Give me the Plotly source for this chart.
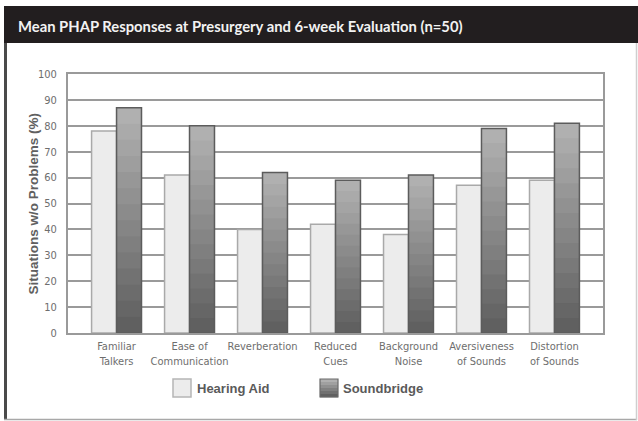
import plotly.graph_objects as go

# Mean PHAP responses, % of situations without problems
categories = ["Familiar<br>Talkers", "Ease of<br>Communication", "Reverberation",
              "Reduced<br>Cues", "Background<br>Noise", "Aversiveness<br>of Sounds",
              "Distortion<br>of Sounds"]
hearing_aid = [78, 61, 40, 42, 38, 57, 59]
soundbridge = [87, 80, 62, 59, 61, 79, 81]
y_ticks = [0, 10, 20, 30, 40, 50, 60, 70, 80, 90, 100]

W, H = 638, 421
L, R, T, B = 68, 603, 74, 333          # plot area in pixels

NARROW = "DejaVu Sans Condensed, Liberation Sans Narrow, Arial Narrow, sans-serif"


def px(x):
    return (x - L) / (R - L)


def py(y):
    return (B - y) / (B - T)


x_idx = list(range(len(categories)))
bw = 0.342
n_steps = 14


def grey(level):
    return f"rgb({level},{level},{level})"


fig = go.Figure()

# Hearing aid bars (left of each pair)
fig.add_trace(go.Bar(
    x=x_idx, y=hearing_aid, offset=-bw, width=bw,
    marker=dict(color="#ececec", line=dict(color="#a9a9a9", width=1.5)),
    name="Hearing Aid", showlegend=False, hoverinfo="skip"))

# Soundbridge bars: vertical shading from light top to dark bottom,
# layered as successively shorter, darker bars over the full bar
top_c, bot_c = 176, 96
for k in range(n_steps):
    frac = (n_steps - k) / n_steps
    lvl = round(top_c + (bot_c - top_c) * k / (n_steps - 1))
    fig.add_trace(go.Bar(
        x=x_idx, y=[v * frac for v in soundbridge], offset=0, width=bw,
        marker=dict(color=grey(lvl), line=dict(width=0)),
        showlegend=False, hoverinfo="skip"))

# outline of the Soundbridge bars
fig.add_trace(go.Bar(
    x=x_idx, y=soundbridge, offset=0, width=bw,
    marker=dict(color="rgba(0,0,0,0)", line=dict(color="#5c5c5c", width=1.5)),
    name="Soundbridge", showlegend=False, hoverinfo="skip"))

shapes = []
# dark title band
shapes.append(dict(type="rect", xref="paper", yref="paper",
                   x0=px(4), x1=px(639), y0=py(43), y1=py(6),
                   fillcolor="#221e1f", line=dict(width=0), layer="below"))
# frame around the chart body
shapes.append(dict(type="line", xref="paper", yref="paper",
                   x0=px(5.5), x1=px(5.5), y0=py(43), y1=py(420),
                   line=dict(color="#4a4a4a", width=3)))
shapes.append(dict(type="line", xref="paper", yref="paper",
                   x0=px(4), x1=px(637), y0=py(419.5), y1=py(419.5),
                   line=dict(color="#a8a8a8", width=1.5)))
shapes.append(dict(type="line", xref="paper", yref="paper",
                   x0=px(636.5), x1=px(636.5), y0=py(43), y1=py(420),
                   line=dict(color="#cfcfcf", width=1.5)))

# legend swatches
shapes.append(dict(type="rect", xref="paper", yref="paper",
                   x0=px(173), x1=px(191), y0=py(397), y1=py(379),
                   fillcolor="#ececec", line=dict(color="#b5b5b5", width=1.5)))
n_sw = 6
for k in range(n_sw):
    lvl = round(top_c + (bot_c - top_c) * k / (n_sw - 1))
    y0 = 379 + 18 * k / n_sw
    y1 = 379 + 18 * (k + 1) / n_sw
    shapes.append(dict(type="rect", xref="paper", yref="paper",
                       x0=px(320), x1=px(338), y0=py(y1 + 0.3), y1=py(y0),
                       fillcolor=grey(lvl), line=dict(width=0)))
shapes.append(dict(type="rect", xref="paper", yref="paper",
                   x0=px(320), x1=px(338), y0=py(397), y1=py(379),
                   fillcolor="rgba(0,0,0,0)", line=dict(color="#6a6a6a", width=1.2)))

annotations = [
    dict(text="Mean PHAP Responses at Presurgery and 6-week Evaluation (n=50)",
         xref="paper", yref="paper", x=px(16), y=py(26), xanchor="left", yanchor="middle",
         showarrow=False, font=dict(family="Lato", size=14.8, color="#f2f2f2", weight="bold")),
    dict(text="Situations w/o Problems (%)", xref="paper", yref="paper",
         x=px(33), y=py(203.5), xanchor="center", yanchor="middle", textangle=-90,
         showarrow=False,
         font=dict(family="Liberation Sans", size=13.5, color="#606060", weight="bold")),
    dict(text="Hearing Aid", xref="paper", yref="paper", x=px(195), y=py(388),
         xanchor="left", yanchor="middle", showarrow=False,
         font=dict(family="Liberation Sans", size=13, color="#5a5a5a", weight="bold")),
    dict(text="Soundbridge", xref="paper", yref="paper", x=px(341), y=py(388),
         xanchor="left", yanchor="middle", showarrow=False,
         font=dict(family="Liberation Sans", size=13, color="#5a5a5a", weight="bold")),
]

fig.update_layout(
    width=W, height=H,
    margin=dict(l=L, r=W - R, t=T, b=H - B, pad=0),
    paper_bgcolor="white", plot_bgcolor="white",
    barmode="overlay",
    showlegend=False,
    shapes=shapes, annotations=annotations,
    xaxis=dict(range=[-0.665, 6.665], tickmode="array", tickvals=x_idx, ticktext=categories,
               showgrid=False, zeroline=False, showline=True, mirror=True,
               linecolor="#9a9a9a", linewidth=2, ticks="", ticklabelstandoff=2,
               tickangle=0,
               tickfont=dict(family=NARROW, size=11, color="#6e6e6e")),
    yaxis=dict(range=[0, 100], tickmode="array", tickvals=y_ticks,
               showgrid=True, gridcolor="#9a9a9a", gridwidth=1.5, zeroline=False,
               showline=True, mirror=True, linecolor="#9a9a9a", linewidth=2,
               ticks="", ticklabelstandoff=7,
               tickfont=dict(family=NARROW, size=11, color="#6e6e6e")),
)

fig.write_html("out.html")
